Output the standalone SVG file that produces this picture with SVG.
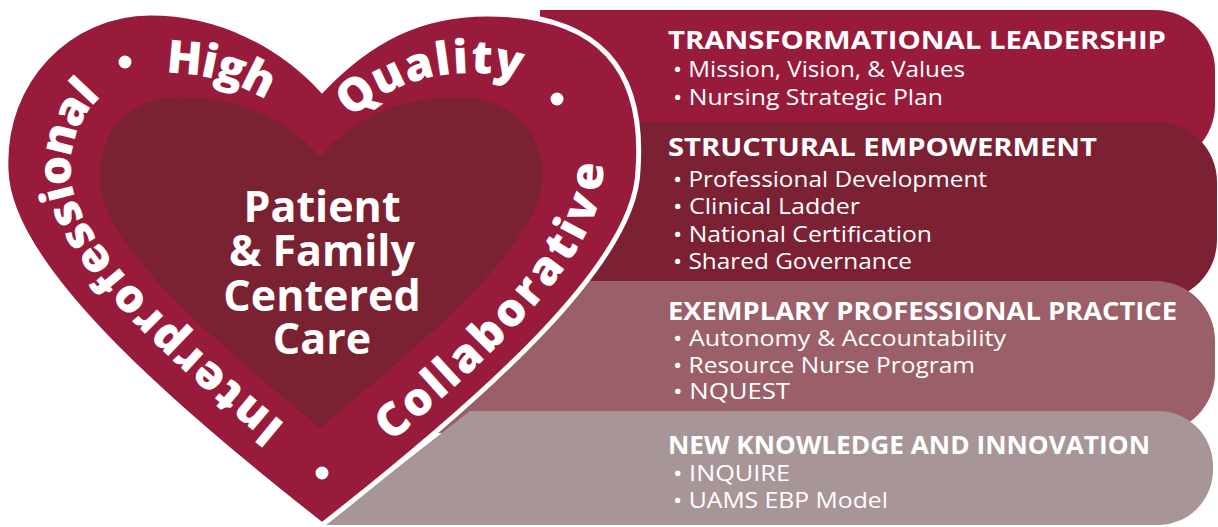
<svg xmlns="http://www.w3.org/2000/svg" width="1218" height="527" viewBox="0 0 1218 527">
<style>
.t{font-family:"Open Sans","Liberation Sans",sans-serif;font-weight:700;fill:#fff;font-size:25px}
.i{font-family:"Open Sans","Liberation Sans",sans-serif;font-weight:400;fill:#fff;font-size:21px}
.c{font-family:"Open Sans","Liberation Sans",sans-serif;font-weight:700;fill:#fff;font-size:43px;text-anchor:middle}
.arc{font-family:"Open Sans","Liberation Sans",sans-serif;font-weight:800;fill:#fff;font-size:46px;dominant-baseline:central}
</style>
<defs>
<path id="cw" d="M 321 476 C 175 360 54 250 53 175 C 50 105 100 55 165 55 C 230 55 285 82 321 123 C 360 80 410 55 472 55 C 555 55 595 100 590 175 C 588 250 467 360 321 476"/>
<path id="ccw" d="M 321 476 C 467 360 583 250 585 175 C 589 100 552 55 472 55"/>
</defs>
<rect width="1218" height="527" fill="#fff"/>
<g id="band1">
<path d="M 540 10 H 1155 A 60 60 0 0 1 1215 70 V 105 A 60 60 0 0 1 1155 165 H 540 Z" fill="#991b3b"/>
<text class="t" x="668" y="49" textLength="498" lengthAdjust="spacingAndGlyphs">TRANSFORMATIONAL LEADERSHIP</text>
<text class="i" x="673" y="77" textLength="292" lengthAdjust="spacingAndGlyphs">• Mission, Vision, &amp; Values</text>
<text class="i" x="673" y="105" textLength="270" lengthAdjust="spacingAndGlyphs">• Nursing Strategic Plan</text>
</g>
<g id="band2">
<path d="M 520 122 H 1157 A 60 60 0 0 1 1217 182 V 240 A 60 60 0 0 1 1157 300 H 520 Z" fill="#7c2133"/>
<text class="t" x="668" y="156" textLength="429" lengthAdjust="spacingAndGlyphs">STRUCTURAL EMPOWERMENT</text>
<text class="i" x="673" y="187" textLength="314" lengthAdjust="spacingAndGlyphs">• Professional Development</text>
<text class="i" x="673" y="214" textLength="187" lengthAdjust="spacingAndGlyphs">• Clinical Ladder</text>
<text class="i" x="673" y="242" textLength="259" lengthAdjust="spacingAndGlyphs">• National Certification</text>
<text class="i" x="673" y="269" textLength="239" lengthAdjust="spacingAndGlyphs">• Shared Governance</text>
</g>
<g id="band3">
<path d="M 420 281 H 1155 A 60 60 0 0 1 1215 341 V 373 A 60 60 0 0 1 1155 433 H 420 Z" fill="#9b5f69"/>
<text class="t" x="668" y="320" textLength="509" lengthAdjust="spacingAndGlyphs">EXEMPLARY PROFESSIONAL PRACTICE</text>
<text class="i" x="673" y="346" textLength="333" lengthAdjust="spacingAndGlyphs">• Autonomy &amp; Accountability</text>
<text class="i" x="673" y="373" textLength="302" lengthAdjust="spacingAndGlyphs">• Resource Nurse Program</text>
<text class="i" x="673" y="399" textLength="117" lengthAdjust="spacingAndGlyphs">• NQUEST</text>
</g>
<g id="band4">
<path d="M 470 411 H 1158 A 55 55 0 0 1 1213 466 V 470 A 55 55 0 0 1 1158 525 H 324 Z" fill="#a89598"/>
<text class="t" x="668" y="454" textLength="482" lengthAdjust="spacingAndGlyphs">NEW KNOWLEDGE AND INNOVATION</text>
<text class="i" x="673" y="481" textLength="117" lengthAdjust="spacingAndGlyphs">• INQUIRE</text>
<text class="i" x="673" y="508" textLength="215" lengthAdjust="spacingAndGlyphs">• UAMS EBP Model</text>
</g>
<g id="heart">
<path d="M 322 90 C 370 40 420 14 487 14 C 600 14 645 70 638 170 C 636 260 494 390 322 525 C 150 390 8 260 6 170 C 2 80 70 13 150 13 C 220 13 280 45 322 90 Z" fill="#991b3b" stroke="#fff" stroke-width="5"/>
<path d="M 320 157 C 350 120 400 97 457 97 C 510 97 545 130 542 180 C 540 240 440 330 320 428 C 200 330 100 240 100 180 C 98 130 130 97 180 97 C 240 97 290 120 320 157 Z" fill="#7b2232"/>
<text class="c" x="322" y="222">Patient</text>
<text class="c" x="322" y="266">&amp; Family</text>
<text class="c" x="322" y="311">Centered</text>
<text class="c" x="322" y="354">Care</text>
<text class="arc"><textPath href="#cw" startOffset="60" textLength="452" lengthAdjust="spacing">Interprofessional</textPath></text>
<text class="arc"><textPath href="#cw" startOffset="598" textLength="112" lengthAdjust="spacing">High</textPath></text>
<text class="arc"><textPath href="#cw" startOffset="798" textLength="196" lengthAdjust="spacing">Quality</textPath></text>
<text class="arc"><textPath href="#ccw" startOffset="75" textLength="346" lengthAdjust="spacing">Collaborative</textPath></text>
<circle cx="125" cy="62" r="6.5" fill="#fff"/>
<circle cx="557" cy="99" r="6.5" fill="#fff"/>
<circle cx="322" cy="473" r="6.5" fill="#fff"/>
</g>
</svg>
